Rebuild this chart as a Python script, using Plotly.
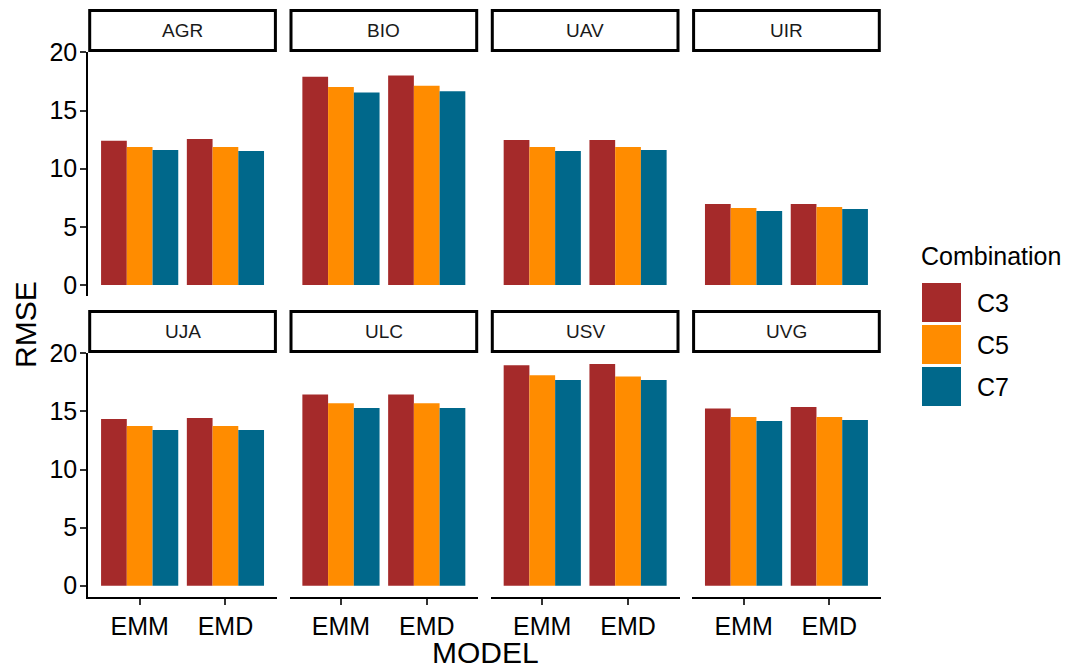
import plotly.graph_objects as go
from plotly.subplots import make_subplots

# ---------------- data ----------------
panels = ["AGR", "BIO", "UAV", "UIR", "UJA", "ULC", "USV", "UVG"]
models = ["EMM", "EMD"]
combos = ["C3", "C5", "C7"]
colors = ["#A52A2A", "#FF8C00", "#00688B"]

# RMSE per panel: [EMM, EMD]
rmse_c3 = [[12.40, 12.55], [17.90, 18.02], [12.46, 12.46], [6.96, 6.96],
           [14.35, 14.43], [16.47, 16.47], [18.97, 19.08], [15.26, 15.38]]
rmse_c5 = [[11.86, 11.86], [17.02, 17.13], [11.86, 11.86], [6.62, 6.70],
           [13.74, 13.74], [15.70, 15.70], [18.11, 18.02], [14.52, 14.52]]
rmse_c7 = [[11.60, 11.52], [16.56, 16.65], [11.52, 11.60], [6.36, 6.53],
           [13.40, 13.40], [15.29, 15.29], [17.70, 17.70], [14.17, 14.26]]
series = [rmse_c3, rmse_c5, rmse_c7]
y_ticks = [0, 5, 10, 15, 20]

# ---------------- layout helpers ----------------
W, H = 1073, 666
OFF = 8  # page body margin offset
FONT = "Liberation Sans, Arial, sans-serif"


def px(x):
    return (x - OFF) / W


def py(y):
    return 1 - (y - OFF) / H


col_left = [88.2, 289.5, 490.8, 692.1]
panel_w = 188.7
row_top = [52.0, 353.0]
row_bot = [296.0, 596.8]
strip_top = [9.0, 310.0]

ymax = max(max(max(p) for p in s) for s in series)
yrange = [-0.05 * ymax, ymax * 1.05]

fig = make_subplots(rows=2, cols=4)

for i, name in enumerate(panels):
    r, c = divmod(i, 4)
    for j, comb in enumerate(combos):
        fig.add_trace(
            go.Bar(
                x=models,
                y=series[j][i],
                name=comb,
                marker=dict(color=colors[j], line=dict(width=0)),
                showlegend=False,
                offsetgroup=comb,
            ),
            row=r + 1,
            col=c + 1,
        )

    k = "" if i == 0 else str(i + 1)
    L = col_left[c]
    xa = dict(
        domain=[px(L), px(L + panel_w)],
        range=[-0.6, 1.6],
        type="category",
        categoryorder="array",
        categoryarray=models,
        showgrid=False,
        zeroline=False,
        fixedrange=True,
        automargin=False,
    )
    if r == 1:
        xa.update(
            showline=True, linecolor="black", linewidth=2,
            ticks="outside", ticklen=6, tickwidth=2, tickcolor="#333333",
            tickfont=dict(family=FONT, size=25, color="black"),
            showticklabels=True,
        )
    else:
        xa.update(showline=False, ticks="", showticklabels=False)

    ya = dict(
        domain=[py(row_bot[r]), py(row_top[r])],
        range=yrange,
        showgrid=False,
        zeroline=False,
        tickvals=y_ticks,
        fixedrange=True,
        automargin=False,
    )
    if c == 0:
        ya.update(
            showline=True, linecolor="black", linewidth=2,
            ticks="outside", ticklen=6, tickwidth=2, tickcolor="#333333",
            tickfont=dict(family=FONT, size=25, color="black"),
            showticklabels=True, ticklabelstandoff=-2,
        )
    else:
        ya.update(showline=False, ticks="", showticklabels=False)

    fig.layout["xaxis" + k].update(xa)
    fig.layout["yaxis" + k].update(ya)

    # strip
    fig.add_shape(
        type="rect", xref="paper", yref="paper",
        x0=px(L + 1.5), x1=px(L + panel_w - 1.5),
        y0=py(row_top[r] - 1.5), y1=py(strip_top[r] + 1.5),
        line=dict(color="black", width=3), fillcolor="white", layer="above",
    )
    fig.add_annotation(
        xref="paper", yref="paper",
        x=px(L + panel_w / 2), y=py((row_top[r] + strip_top[r]) / 2),
        text=name, showarrow=False,
        font=dict(family=FONT, size=19, color="#1A1A1A"),
        xanchor="center", yanchor="middle",
    )

# axis titles
fig.add_annotation(
    xref="paper", yref="paper", x=px(485), y=py(652), text="MODEL",
    showarrow=False, font=dict(family=FONT, size=30, color="black"),
    xanchor="center", yanchor="middle",
)
fig.add_annotation(
    xref="paper", yref="paper", x=px(25), y=py(325), text="RMSE",
    showarrow=False, textangle=-90,
    font=dict(family=FONT, size=30, color="black"),
    xanchor="center", yanchor="middle",
)

# legend (drawn)
fig.add_annotation(
    xref="paper", yref="paper", x=px(919), y=py(256), text="Combination",
    showarrow=False, font=dict(family=FONT, size=25, color="black"),
    xanchor="left", yanchor="middle",
)
key_top = 283.0
key_step = 42.0
key_size = 39.0
for j, comb in enumerate(combos):
    y0 = key_top + j * key_step
    fig.add_shape(
        type="rect", xref="paper", yref="paper",
        x0=px(922), x1=px(922 + key_size), y0=py(y0 + key_size), y1=py(y0),
        line=dict(width=0), fillcolor=colors[j],
    )
    fig.add_annotation(
        xref="paper", yref="paper", x=px(975), y=py(y0 + key_size / 2),
        text=comb, showarrow=False,
        font=dict(family=FONT, size=25, color="black"),
        xanchor="left", yanchor="middle",
    )

fig.update_layout(
    template="none",
    width=W, height=H,
    margin=dict(l=0, r=0, t=0, b=0, pad=0, autoexpand=False),
    paper_bgcolor="white", plot_bgcolor="white",
    barmode="group", bargap=0.1, bargroupgap=0,
    showlegend=False,
    font=dict(family=FONT),
)

fig.write_html("out.html")
